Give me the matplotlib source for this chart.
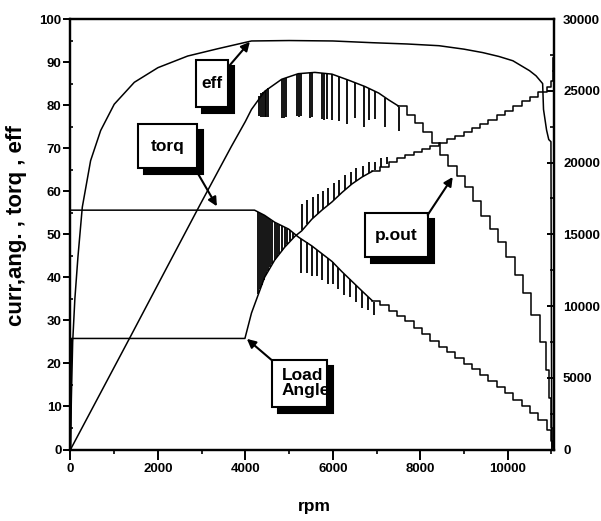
import matplotlib
matplotlib.use("Agg")
import matplotlib.pyplot as plt
from matplotlib.patches import Rectangle
from matplotlib.ticker import MultipleLocator
import matplotlib.transforms as mtransforms

plt.rcParams['font.family'] = ['Liberation Sans', 'DejaVu Sans']
plt.rcParams['font.weight'] = 'bold'

# ---------------- data ----------------
# efficiency (left axis, %)
eff_rpm = [0, 20, 50, 100, 170, 270, 460, 690, 1000, 1460, 2000, 2680, 3370, 4140,
           5000, 6000, 6900, 7700, 8430, 9000, 9430, 9800, 10120, 10500, 10650, 10800,
           10820, 10890, 10940, 10990, 11000, 11010]
eff_val = [0, 12, 25, 35, 44.7, 56.3, 67.1, 74.1, 80.2, 85.3, 88.7, 91.4, 93.1, 94.9,
           95.0, 94.9, 94.5, 94.2, 93.8, 93.0, 92.2, 91.3, 90.3, 88.0, 86.8, 85.0,
           79.0, 74.2, 72.0, 71.5, 30.0, 0]

# torque (left axis)
torq_rpm = [0, 4210, 4440, 4670, 4990, 5220, 5520, 5750, 5980, 6210, 6670, 6900]
torq_val = [55.6, 55.6, 54.4, 52.8, 51.2, 49.3, 47.3, 45.5, 43.7, 41.3, 36.8, 34.6]
torq_step_rpm = [6900, 7090, 7280, 7470, 7660, 7850, 8040, 8230, 8420, 8610, 8800, 8990,
                 9180, 9370, 9560, 9750, 9940, 10130, 10320, 10510, 10700, 10890, 11000, 11040]
torq_step_val = [34.6, 33.5, 32.2, 31.0, 29.8, 28.3, 26.8, 25.3, 23.9, 22.6, 21.2, 19.9,
                 18.6, 17.3, 15.9, 14.5, 13.1, 11.6, 10.0, 8.5, 6.9, 4.5, 2.0, 0.5]

# load angle (left axis)
ang_rpm = [0, 20, 3990, 4140, 4440, 4670, 4900, 5130, 5290, 5520, 5750, 5980, 6210,
           6440, 6670, 6900]
ang_val = [0, 25.8, 25.8, 31.7, 40.0, 44.0, 47.0, 49.5, 50.8, 53.5, 55.6, 57.5, 59.7,
           61.7, 63.3, 64.6]
ang_step_rpm = [6900, 7090, 7280, 7470, 7660, 7850, 8040, 8230, 8420, 8610, 8800, 8990,
                9180, 9370, 9560, 9750, 9940, 10130, 10320, 10510, 10700, 10890, 11000, 11040]
ang_step_val = [64.6, 65.7, 66.7, 67.6, 68.4, 69.2, 69.9, 70.6, 71.3, 72.1, 72.9, 73.8,
                74.6, 75.6, 76.6, 77.6, 78.7, 79.8, 80.9, 82.0, 83.1, 84.3, 85.5, 88.0]

# output power (right axis, W)
pout_rpm = [0, 690, 1380, 2200, 2960, 3680, 4000, 4140, 4440, 4830, 5210, 5590, 5980,
            6360, 6740, 7050, 7280, 7500]
pout_val = [0, 3960, 7920, 12660, 17040, 21120, 22860, 23700, 24960, 25800, 26190, 26280,
            26160, 25740, 25290, 24840, 24360, 23940]
pout_step_rpm = [7500, 7690, 7880, 8070, 8260, 8450, 8640, 8830, 9020, 9210, 9400, 9590,
                 9780, 9970, 10160, 10350, 10540, 10730, 10880, 10950, 11000, 11040]
pout_step_val = [23940, 23280, 22740, 22140, 21360, 20550, 19740, 19050, 18300, 17310,
                 16290, 15360, 14490, 13410, 12180, 10890, 9360, 7500, 5520, 3600, 1500, 0]

# oscillation spikes
pout_spike_rpm = [4320, 4360, 4400, 4440, 4480, 4520, 4840, 4880, 4920, 5190, 5230, 5270,
                  5480, 5530, 5760, 5810, 5860, 5990, 6140, 6320, 6510, 6710, 6830, 6970,
                  7200, 7520]
pout_spike_top = [24660, 24810, 24900, 24990, 25080, 25170, 25800, 25860, 25920, 26160,
                  26190, 26190, 26250, 26280, 26250, 26220, 26190, 26160, 25980, 25800,
                  25560, 25320, 25170, 24960, 24480, 23880]
pout_spike_bot = [23250, 23190, 23190, 23160, 23160, 23190, 23100, 23100, 23160, 23250,
                  23190, 23250, 23100, 23160, 23040, 22980, 23040, 22950, 22860, 22650,
                  23100, 22500, 22950, 23040, 22500, 22200]

torq_spike_rpm = [4300, 4340, 4380, 4420, 4470, 4520, 4570, 4620, 4670, 4720, 4780, 4840,
                  4900, 4960, 5030, 5100, 5160,
                  5280, 5400, 5520, 5640, 5760, 5880, 6000, 6130, 6260, 6390, 6520,
                  6660, 6800, 6950]
torq_spike_top = [55.2, 55.0, 54.7, 54.5, 54.2, 53.8, 53.5, 53.1, 52.8, 52.5, 52.2, 51.9,
                  51.6, 51.3, 50.9, 50.3, 49.8,
                  48.9, 48.1, 47.3, 46.4, 45.4, 44.5, 43.5, 42.2, 40.8, 39.5, 38.3,
                  36.9, 35.5, 34.3]
torq_spike_bot = [36.1, 37.2, 38.3, 39.4, 40.5, 41.4, 42.3, 43.1, 44.0, 44.7, 45.5, 46.2,
                  47.0, 47.7, 48.4, 49.2, 49.7,
                  40.9, 41.1, 40.3, 40.4, 39.4, 38.5, 38.5, 37.2, 35.8, 35.5, 34.3,
                  32.9, 32.5, 31.3]

ang_spike_rpm = [5300, 5420, 5540, 5660, 5780, 5900, 6020, 6150, 6280, 6410, 6540, 6680,
                 6820, 6960, 7100, 7250]
ang_spike_bot = [51.0, 52.4, 53.7, 54.8, 55.8, 56.8, 57.9, 59.1, 60.3, 61.4, 62.4, 63.4,
                 64.2, 64.9, 65.6, 66.4]
ang_spike_top = [57.0, 58.0, 58.7, 59.3, 60.0, 60.8, 61.9, 62.6, 63.8, 64.4, 65.4, 65.9,
                 66.7, 66.9, 67.6, 67.9]

x_ticks = [0, 2000, 4000, 6000, 8000, 10000]
left_ticks = [0, 10, 20, 30, 40, 50, 60, 70, 80, 90, 100]
right_ticks = [0, 5000, 10000, 15000, 20000, 25000, 30000]

# ---------------- figure ----------------
fig = plt.figure(figsize=(6.01, 5.21), dpi=100)
ax = fig.add_axes([0.1173, 0.1372, 0.8045, 0.8263])
ax2 = ax.twinx()

LW = 1.1
k = 'black'
ax.plot(eff_rpm, eff_val, color=k, lw=LW)
ax.plot(torq_rpm, torq_val, color=k, lw=LW)
ax.plot(torq_step_rpm, torq_step_val, color=k, lw=LW, drawstyle='steps-post')
ax.plot(ang_rpm, ang_val, color=k, lw=LW)
ax.plot(ang_step_rpm, ang_step_val, color=k, lw=LW, drawstyle='steps-post')
ax.plot([ang_step_rpm[-1], ang_step_rpm[-1]], [ang_step_val[-1], 91], color=k, lw=LW)
ax.vlines(torq_spike_rpm, torq_spike_bot, torq_spike_top, color=k, lw=1.3)
ax.vlines(ang_spike_rpm, ang_spike_bot, ang_spike_top, color=k, lw=1.3)

ax2.plot(pout_rpm, pout_val, color=k, lw=LW)
ax2.plot(pout_step_rpm, pout_step_val, color=k, lw=LW, drawstyle='steps-post')
ax2.vlines(pout_spike_rpm, pout_spike_bot, pout_spike_top, color=k, lw=1.3)

ax.set_xlim(0, 11060)
ax.set_ylim(0, 100)
ax2.set_ylim(0, 30000)

ax.set_xticks(x_ticks)
ax.set_xticklabels([str(v) for v in x_ticks])
ax.set_yticks(left_ticks)
ax.set_yticklabels([str(v) for v in left_ticks])
ax2.set_yticks(right_ticks)
ax2.set_yticklabels([str(v) for v in right_ticks])
ax.xaxis.set_minor_locator(MultipleLocator(1000))
ax.yaxis.set_minor_locator(MultipleLocator(5))
ax2.yaxis.set_minor_locator(MultipleLocator(2500))

ax.tick_params(axis='x', which='major', direction='out', length=7, width=1.4,
               labelsize=9.5, pad=3, top=False)
ax.tick_params(axis='x', which='minor', direction='out', length=3, width=1.2, top=False)
ax.tick_params(axis='y', which='major', direction='out', length=5, width=1.4,
               labelsize=9.5, pad=1.5, right=False)
ax.tick_params(axis='y', which='minor', direction='in', length=2.5, width=1.2, right=False)
ax2.tick_params(axis='y', which='major', direction='in', length=5, width=1.4,
                labelsize=9.5, pad=6.5)
ax2.tick_params(axis='y', which='minor', direction='in', length=3, width=1.2)
for a in (ax, ax2):
    for s in a.spines.values():
        s.set_linewidth(1.6)
for lab in ax.get_xticklabels() + ax.get_yticklabels() + ax2.get_yticklabels():
    lab.set_fontweight('bold')

fig.text(17 / 601, (521 - 226) / 521, 'curr,ang. , torq , eff', rotation=90,
         ha='center', va='center', fontsize=16, fontweight='bold')
fig.text(314 / 601, (521 - 506) / 521, 'rpm', ha='center', va='center',
         fontsize=12.5, fontweight='bold')

# ---------------- callout boxes ----------------
shadow_tr = mtransforms.offset_copy(ax.transData, fig=fig, x=4.5, y=-4.5, units='points')

def callout(x0, x1, y0, y1, text, start, tip, tx=None, ha='center'):
    w, h = x1 - x0, y1 - y0
    ax.add_patch(Rectangle((x0, y0), w, h, transform=shadow_tr, facecolor='black',
                           edgecolor='black', lw=1.5, zorder=5, clip_on=False))
    ax.add_patch(Rectangle((x0, y0), w, h, facecolor='white', edgecolor='black',
                           lw=1.5, zorder=6, clip_on=False))
    xt = (x0 + x1) / 2 if tx is None else tx
    ax.text(xt, (y0 + y1) / 2, text, ha=ha, va='center', multialignment='left',
            fontsize=12.5, fontweight='bold', zorder=7, linespacing=1.0)
    ax.annotate('', xy=tip, xytext=start, zorder=7,
                arrowprops=dict(arrowstyle='-|>', color='black', lw=1.5,
                                mutation_scale=13, shrinkA=0, shrinkB=0))

callout(2869, 3600, 79.6, 90.5, 'eff', (3646, 89.3), (4103, 94.7))
callout(1543, 2891, 65.4, 75.6, 'torq', (2869, 64.9), (3349, 56.5))
callout(4599, 5856, 9.9, 20.8, 'Load\nAngle', (4599, 20.8), (4034, 25.7),
        tx=4830, ha='left')
callout(6731, 8171, 44.7, 54.9, 'p.out', (8171, 54.5), (8743, 63.3))

fig.savefig('out.png', dpi=100)
